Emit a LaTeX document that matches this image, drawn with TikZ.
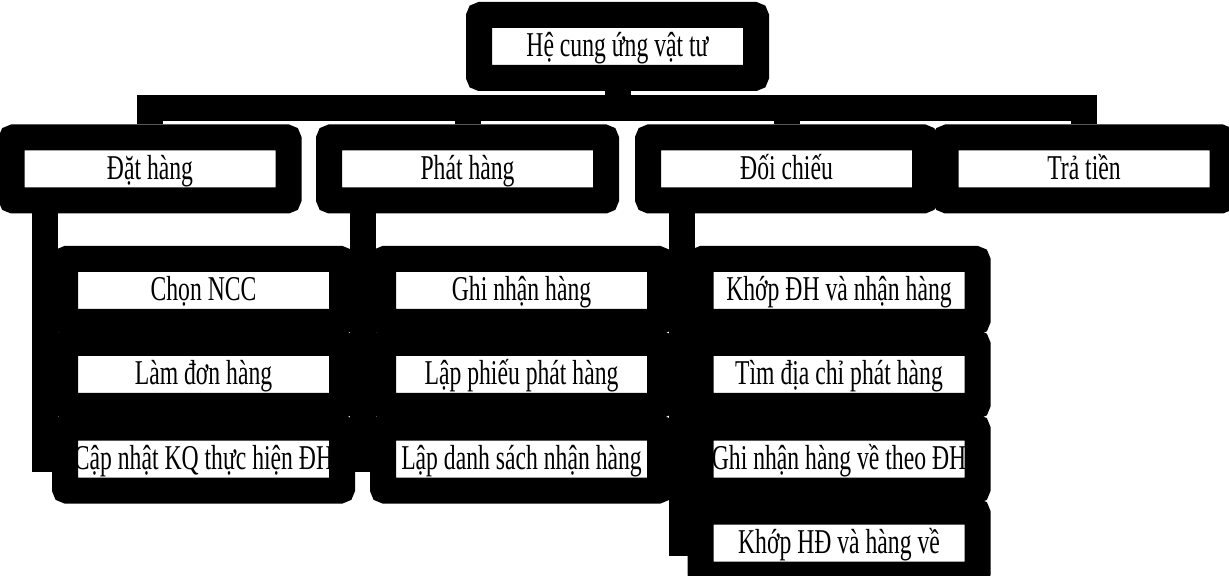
\documentclass[tikz,border=0pt]{standalone}
\usepackage{fontspec}
\setmainfont{Liberation Serif}[FakeStretch=0.68]
\usetikzlibrary{positioning}

\begin{document}
\begin{tikzpicture}[x=0.5pt,y=-0.5pt,
    box/.style={draw=black,line width=13pt,fill=white,inner sep=0pt,
      rounded corners=1pt,
      minimum width=138.5pt,minimum height=31.5pt,
      text height=12.5pt,text depth=2pt,
      font=\fontsize{17.4pt}{19pt}\selectfont},
    conn/.style={draw=black,line width=13pt}]    % Fix the page
    \useasboundingbox (0,0) rectangle (1229,576);
    % Draw the boxes
    \node[box] (root) at (617.5,46.5) {Hệ cung ứng vật tư};

    \node[box] (dat) at (150,169) {Đặt hàng};
    \node[box] (phat) at (467.5,169) {Phát hàng};
    \node[box] (doi) at (786.5,169) {Đối chiếu};
    \node[box] (tra) at (1084,169) {Trả tiền};

    \node[box] (chon) at (203.5,290.5) {Chọn NCC};
    \node[box] (lam) at (203.5,374.5) {Làm đơn hàng};
    \node[box] (capnhat) at (203.5,459) {Cập nhật KQ thực hiện ĐH};

    \node[box] (ghi) at (521.5,290.5) {Ghi nhận hàng};
    \node[box] (phieu) at (521.5,374.5) {Lập phiếu phát hàng};
    \node[box] (dsach) at (521.5,459) {Lập danh sách nhận hàng};

    \node[box] (khopdh) at (839,290.5) {Khớp ĐH và nhận hàng};
    \node[box] (diachi) at (839,374.5) {Tìm địa chỉ phát hàng};
    \node[box] (ghive) at (839,459) {Ghi nhận hàng về theo ĐH};
    \node[box] (khophd) at (839,543) {Khớp HĐ và hàng về};

    % Draw the connectors
    \coordinate (bus) at (617.5,108.5);
    \draw[conn] (root.south) -- (bus) -| (dat.north);
    \draw[conn] (root.south) -- (bus) -| (phat.north);
    \draw[conn] (root.south) -- (bus) -| (doi.north);
    \draw[conn] (root.south) -- (bus) -| (tra.north);

    \coordinate (v_1) at (45,169);
    \coordinate (v_2) at (363,169);
    \coordinate (v_3) at (682,169);
    \draw[conn] (v_1 |- dat.south) |- (chon.west);
    \draw[conn] (v_1 |- dat.south) |- (lam.west);
    \draw[conn] (v_1 |- dat.south) |- (capnhat.west);
    \draw[conn] (v_2 |- phat.south) |- (ghi.west);
    \draw[conn] (v_2 |- phat.south) |- (phieu.west);
    \draw[conn] (v_2 |- phat.south) |- (dsach.west);
    \draw[conn] (v_3 |- doi.south) |- (khopdh.west);
    \draw[conn] (v_3 |- doi.south) |- (diachi.west);
    \draw[conn] (v_3 |- doi.south) |- (ghive.west);
    \draw[conn] (v_3 |- doi.south) |- (khophd.west);
  \end{tikzpicture}
\end{document}
